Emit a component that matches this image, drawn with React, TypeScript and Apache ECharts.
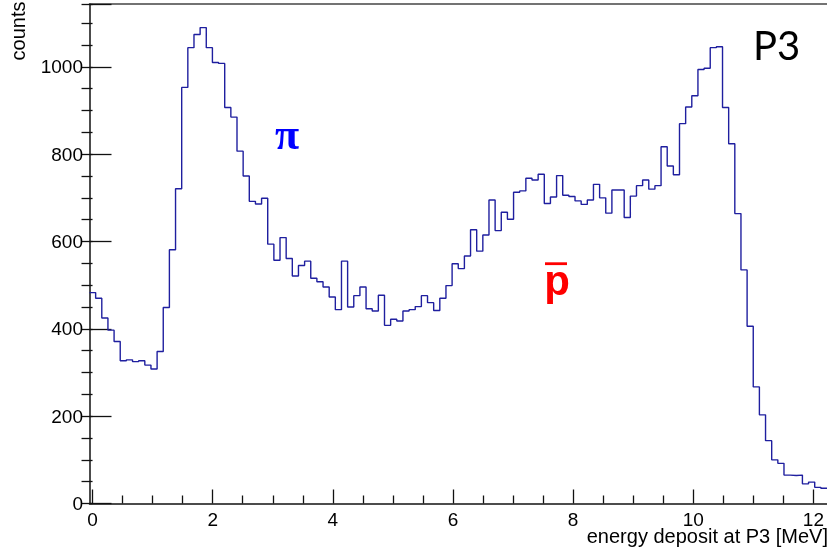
import { useEffect, useRef } from "react";
import * as echarts from "echarts";

// Histogram binning (energy deposit, MeV)
const BIN_START = -0.05;
const BIN_WIDTH = 0.1013;

// Counts per bin, bins 0..119
const counts = [
  483, 470, 425, 397, 371, 327, 329, 325, 327, 317,
  308, 348, 449, 581, 721, 953, 1044, 1074, 1090, 1044,
  1010, 1008, 907, 885, 807, 750, 692, 686, 699, 594,
  557, 609, 561, 521, 545, 555, 516, 508, 496, 473,
  444, 555, 450, 476, 496, 446, 441, 477, 408, 422,
  418, 441, 444, 451, 476, 460, 442, 470, 499, 549,
  538, 567, 627, 578, 615, 695, 625, 667, 651, 713,
  716, 745, 741, 754, 687, 702, 751, 706, 703, 693,
  685, 695, 731, 700, 665, 718, 718, 655, 704, 728,
  741, 720, 728, 817, 773, 753, 870, 908, 934, 994,
  997, 1044, 1046, 907, 824, 664, 535, 406, 267, 203,
  144, 100, 92, 65, 64, 65, 45, 49, 37, 35,
];

const xTicks = [0, 2, 4, 6, 8, 10, 12];
const yTicks = [0, 200, 400, 600, 800, 1000];
const Y_MINOR_STEP = 50;
const Y_MAX = 1144;

const N = counts.length;
const X_MIN = BIN_START;
const X_MAX = BIN_START + N * BIN_WIDTH;

const W = 827;
const H = 552;
const PLOT_LEFT = 89.5;
const PLOT_TOP = 4;
const PLOT_BOTTOM = 503.5;

export default function App() {
  const ref = useRef<HTMLDivElement>(null);

  useEffect(() => {
    document.body.style.margin = "0";
    const chart = echarts.init(ref.current!, null, { renderer: "svg" });

    const pxPerUnit = (W - PLOT_LEFT) / (X_MAX - X_MIN);
    const tickLeft = PLOT_LEFT + (xTicks[0] - X_MIN) * pxPerUnit;
    const tickRight = W - (PLOT_LEFT + (xTicks[xTicks.length - 1] - X_MIN) * pxPerUnit);

    // step outline: left edge of every bin, plus the right edge of the last one
    const outline: number[][] = counts.map((c, i) => [BIN_START + i * BIN_WIDTH, c]);
    outline.push([X_MAX, counts[N - 1]]);

    const axisColor = "#111";
    const tickStyle = { color: axisColor, width: 1.3 };
    const labelFont = { fontFamily: "Liberation Sans", fontSize: 19, color: "#000" };

    chart.setOption({
      animation: false,
      grid: [
        { left: PLOT_LEFT, right: 0, top: PLOT_TOP, bottom: H - PLOT_BOTTOM },
        { left: tickLeft, right: tickRight, top: PLOT_TOP, bottom: H - PLOT_BOTTOM },
      ],
      xAxis: [
        {
          type: "value", gridIndex: 0, min: X_MIN, max: X_MAX,
          axisLine: { show: true, onZero: false, lineStyle: { color: axisColor, width: 1.5 } },
          axisTick: { show: false }, axisLabel: { show: false }, splitLine: { show: false },
        },
        {
          type: "value", gridIndex: 0, position: "top", min: X_MIN, max: X_MAX,
          axisLine: { show: true, onZero: false, lineStyle: { color: "#444", width: 1.5 } },
          axisTick: { show: false }, axisLabel: { show: false }, splitLine: { show: false },
        },
        {
          type: "value", gridIndex: 1,
          min: xTicks[0], max: xTicks[xTicks.length - 1], interval: xTicks[1] - xTicks[0],
          axisLine: { show: false },
          axisTick: { show: true, inside: true, length: 14, lineStyle: tickStyle },
          minorTick: { show: true, splitNumber: 4, length: 8, lineStyle: tickStyle },
          axisLabel: {
            show: true, margin: 8, lineHeight: 15, ...labelFont,
            formatter: (v: number) => (xTicks.includes(v) ? String(v) : ""),
          },
          splitLine: { show: false }, minorSplitLine: { show: false },
        },
      ],
      yAxis: [
        {
          type: "value", gridIndex: 0, min: 0, max: Y_MAX, interval: yTicks[1] - yTicks[0],
          axisLine: { show: true, onZero: false, lineStyle: { color: axisColor, width: 1.5 } },
          axisTick: { show: true, inside: true, length: 22, lineStyle: tickStyle },
          axisLabel: {
            show: true, margin: 6.5, ...labelFont,
            formatter: (v: number) => (yTicks.includes(v) ? String(v) : ""),
          },
          splitLine: { show: false },
        },
        {
          type: "value", gridIndex: 0, min: 0, max: Y_MAX, interval: Y_MINOR_STEP,
          axisLine: { show: false },
          axisTick: { show: true, inside: true, length: 11, lineStyle: tickStyle },
          axisLabel: { show: false }, splitLine: { show: false },
        },
        { type: "value", gridIndex: 1, min: 0, max: Y_MAX, show: false },
      ],
      series: [
        {
          type: "line", xAxisIndex: 0, yAxisIndex: 0, step: "end",
          data: outline, showSymbol: false, symbol: "none", silent: true,
          lineStyle: { color: "#1f1f9f", width: 1.4 },
        },
      ],
      graphic: [
        {
          type: "text", x: 18, y: 1.5, rotation: Math.PI / 2,
          style: { text: "counts", fontFamily: "Liberation Sans", fontSize: 20, fill: "#000", align: "right", verticalAlign: "middle" },
        },
        {
          type: "text", x: 828, y: 535.6,
          style: { text: "energy deposit at P3 [MeV]", fontFamily: "Liberation Sans", fontSize: 20, lineHeight: 15, fill: "#000", align: "right", verticalAlign: "middle" },
        },
        {
          type: "text", x: 753, y: 44.5,
          style: { text: "P3", fontFamily: "Lato", fontSize: 40, fill: "#000", align: "left", verticalAlign: "middle" },
        },
        {
          type: "text", x: 287, y: 134,
          style: { text: "π", fontFamily: "Liberation Serif", fontWeight: "bold", fontSize: 44, fill: "#0000ff", align: "center", verticalAlign: "middle" },
        },
        {
          type: "text", x: 557, y: 280,
          style: { text: "p", fontFamily: "Liberation Sans", fontWeight: "bold", fontSize: 42, fill: "#ff0000", align: "center", verticalAlign: "middle" },
        },
        {
          type: "rect", shape: { x: 545, y: 262.3, width: 22, height: 2.8 },
          style: { fill: "#ff0000" },
        },
      ],
    });

    return () => chart.dispose();
  }, []);

  return <div ref={ref} style={{ position: "fixed", left: 0, top: 0, width: W, height: H }} />;
}
